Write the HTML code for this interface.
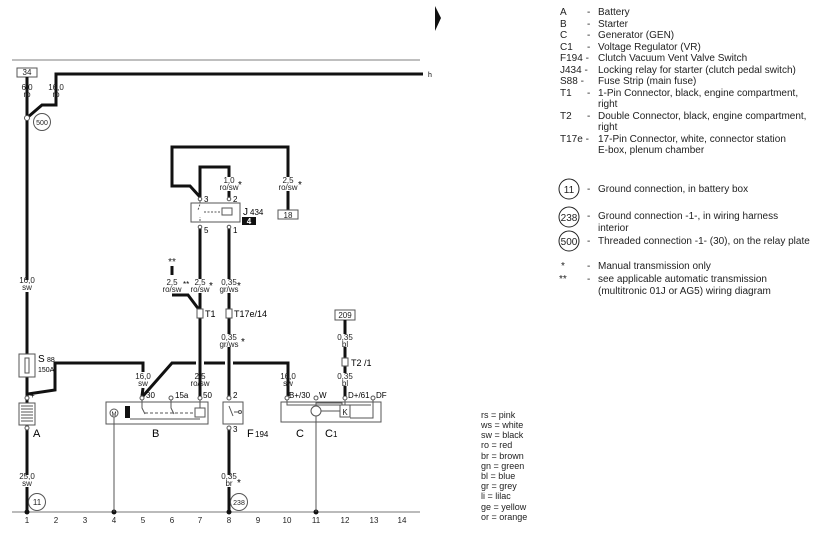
<!DOCTYPE html>
<html><head><style>
body{margin:0;background:#fff;}
svg{display:block;font-family:"Liberation Sans",sans-serif;}
.t{font-size:8px;fill:#222;text-anchor:middle}
.l{font-size:10px;fill:#222}
.w{stroke:#111;stroke-width:3;fill:none}
.n{stroke:#555;stroke-width:1;fill:none}
.b{stroke:#555;stroke-width:1;fill:#fff}
</style></head><body>
<svg width="831" height="535" viewBox="0 0 831 535">
<line x1="12" y1="60" x2="420" y2="60" stroke="#999" stroke-width="1.2"/>
<polygon points="435,6 441,18 435,31" fill="#111"/>
<!-- top wires -->
<rect x="17" y="68" width="20" height="9" class="b"/><text x="27" y="75" class="t">34</text>
<polyline class="w" points="27,77 27,512"/>
<polyline class="w" points="28,117 42,105 56,105 56,74 423,74"/>
<text x="428" y="77" style="font-size:7px">h</text>
<text x="27" y="90" class="t">6,0</text><text x="27" y="97" class="t">ro</text>
<text x="56" y="90" class="t">16,0</text><text x="56" y="97" class="t">ro</text>
<circle cx="27" cy="118" r="2.5" fill="#fff" stroke="#555"/>
<circle cx="42" cy="122" r="8.5" class="b"/><text x="42" y="125" class="t" style="font-size:7px">500</text>
<rect x="21" y="280" width="12" height="12" fill="#fff"/>
<text x="27" y="283" class="t">16,0</text><text x="27" y="290" class="t">sw</text>
<!-- fuse -->
<rect x="19" y="354" width="16" height="23" class="b"/><rect x="25" y="358" width="4" height="15" class="b"/>
<text x="38" y="362" style="font-size:10px">S</text><text x="47" y="362" style="font-size:7px">88</text>
<text x="38" y="372" style="font-size:7px">150A</text>
<polyline class="w" points="28,394 55,390 55,363 143,363 143,372"/>
<polyline class="w" points="143,388 142,396"/>
<polyline class="w" points="143,396 172,363 196,363"/>
<polyline class="w" points="204,363 225,363"/>
<polyline class="w" points="233,363 288,363 288,396"/>
<text x="143" y="379" class="t">16,0</text><text x="143" y="386" class="t">sw</text>
<text x="288" y="379" class="t">16,0</text><text x="288" y="386" class="t">sw</text>
<text x="200" y="379" class="t">2,5</text><text x="200" y="386" class="t">ro/sw</text>
<!-- battery -->
<rect x="19" y="403" width="16" height="22" class="b"/>
<path d="M21 406h12M21 409h12M21 412h12M21 415h12M21 418h12M21 421h12" stroke="#555"/>
<circle cx="27" cy="398" r="2" class="b"/><circle cx="27" cy="428" r="2" class="b"/>
<text x="30" y="398" style="font-size:8px">+</text>
<text x="33" y="437" style="font-size:11px">A</text>
<rect x="20" y="475" width="14" height="12" fill="#fff"/>
<text x="27" y="479" class="t">25,0</text><text x="27" y="486" class="t">sw</text>
<circle cx="37" cy="502" r="8.5" class="b"/><text x="37" y="505" class="t">11</text>
<!-- ground -->
<line x1="12" y1="512" x2="420" y2="512" stroke="#777" stroke-width="1"/>
<circle cx="27" cy="512" r="2.5" fill="#111"/><circle cx="114" cy="512" r="2.5" fill="#111"/>
<circle cx="229" cy="512" r="2.5" fill="#111"/><circle cx="316" cy="512" r="2.5" fill="#111"/>
<g class="t" style="font-size:8px">
<text x="27" y="523">1</text><text x="56" y="523">2</text><text x="85" y="523">3</text><text x="114" y="523">4</text><text x="143" y="523">5</text><text x="172" y="523">6</text><text x="200" y="523">7</text><text x="229" y="523">8</text><text x="258" y="523">9</text><text x="287" y="523">10</text><text x="316" y="523">11</text><text x="345" y="523">12</text><text x="374" y="523">13</text><text x="402" y="523">14</text></g>
<!-- starter -->
<rect x="106" y="402" width="102" height="22" class="b"/>
<line x1="114" y1="413" x2="114" y2="512" class="n"/>
<circle cx="114" cy="413" r="4" class="b"/><text x="114" y="416" class="t" style="font-size:6px">M</text>
<rect x="125" y="406" width="5" height="12" fill="#111"/>
<line x1="130" y1="419" x2="200" y2="419" class="n"/>
<line x1="145" y1="413" x2="195" y2="413" stroke="#555" stroke-dasharray="3,2"/>
<rect x="195" y="408" width="10" height="9" class="b"/>
<path d="M142 400v8l3 6M171 400v8l3 6M200 400v8" class="n"/>
<circle cx="142" cy="398" r="2" class="b"/><circle cx="171" cy="398" r="2" class="b"/><circle cx="200" cy="398" r="2" class="b"/>
<text x="146" y="398" style="font-size:8px">30</text><text x="175" y="398" style="font-size:8px">15a</text><text x="203" y="398" style="font-size:8px">50</text>
<text x="152" y="437" style="font-size:11px">B</text>
<!-- F194 -->
<rect x="223" y="402" width="20" height="22" class="b"/>
<path d="M229 406l4 10M234 412h5" class="n"/><circle cx="240" cy="412" r="1.5" class="b"/>
<polyline class="w" points="229,227 229,396"/>
<polyline class="w" points="229,430 229,512"/>
<circle cx="229" cy="398" r="2" class="b"/><circle cx="229" cy="428" r="2" class="b"/>
<text x="233" y="398" style="font-size:8px">2</text><text x="233" y="432" style="font-size:8px">3</text>
<text x="247" y="437" style="font-size:11px">F</text><text x="255" y="437" style="font-size:8px">194</text>
<rect x="220" y="334" width="22" height="13" fill="#fff"/>
<text x="229" y="340" class="t">0,35</text><text x="229" y="347" class="t">gr/ws</text><text x="241" y="345" style="font-size:10px">*</text>
<rect x="221" y="475" width="16" height="12" fill="#fff"/>
<text x="229" y="479" class="t">0,35</text><text x="229" y="486" class="t">br</text><text x="237" y="486" style="font-size:10px">*</text>
<circle cx="239" cy="502" r="8.5" class="b"/><text x="239" y="505" class="t" style="font-size:7px">238</text>
<!-- C -->
<rect x="281" y="402" width="100" height="20" class="b"/>
<line x1="316" y1="413" x2="316" y2="512" class="n"/>
<circle cx="316" cy="411" r="5" class="b"/>
<rect x="340" y="405" width="10" height="12" class="b"/><text x="345" y="415" class="t" style="font-size:8px">K</text>
<path d="M287 400v5h84M316 406v-3h26v2M321 411h19M373 400v18h-23M345 400v5" class="n"/>
<circle cx="287" cy="398" r="2" class="b"/><circle cx="316" cy="398" r="2" class="b"/><circle cx="345" cy="398" r="2" class="b"/><circle cx="373" cy="398" r="2" class="b"/>
<text x="289" y="398" style="font-size:8px">B+/30</text><text x="319" y="398" style="font-size:8px">W</text><text x="348" y="398" style="font-size:8px">D+/61</text><text x="376" y="398" style="font-size:8px">DF</text>
<text x="296" y="437" style="font-size:11px">C</text><text x="325" y="437" style="font-size:11px">C</text><text x="333" y="437" style="font-size:8px">1</text>
<rect x="335" y="310" width="20" height="10" class="b"/><text x="345" y="318" class="t">209</text>
<polyline class="w" points="345,320 345,396"/>
<rect x="337" y="334" width="16" height="13" fill="#fff"/><rect x="337" y="373" width="16" height="13" fill="#fff"/>
<text x="345" y="340" class="t">0,35</text><text x="345" y="347" class="t">bl</text>
<text x="345" y="379" class="t">0,35</text><text x="345" y="386" class="t">bl</text>
<rect x="342" y="358" width="6" height="8" class="b"/><text x="351" y="366" style="font-size:9px">T2 /1</text>
<!-- relay -->
<polyline class="w" points="200,197 190,186 172,186 172,147 288,147 288,210"/>
<polyline class="w" points="229,199 229,167 200,167 200,197"/>
<polyline class="w" points="200,227 200,396"/>
<rect x="191" y="203" width="49" height="19" class="b"/>
<path d="M200 201v3l-2 6M200 221v-4M204 212h18" stroke="#555" fill="none" stroke-dasharray="2,1.5"/>
<rect x="222" y="208" width="10" height="7" class="b"/>
<circle cx="200" cy="199" r="1.8" class="b"/><circle cx="229" cy="199" r="1.8" class="b"/>
<circle cx="200" cy="227" r="1.8" class="b"/><circle cx="229" cy="227" r="1.8" class="b"/>
<text x="204" y="202" style="font-size:8px">3</text><text x="233" y="202" style="font-size:8px">2</text>
<text x="204" y="233" style="font-size:8px">5</text><text x="233" y="233" style="font-size:8px">1</text>
<text x="243" y="215" style="font-size:10px">J</text><text x="250" y="215" style="font-size:8px">434</text>
<rect x="242" y="217" width="14" height="8" fill="#111"/><text x="249" y="224" class="t" style="fill:#fff;font-weight:bold">4</text>
<rect x="219" y="177" width="20" height="14" fill="#fff"/><rect x="278" y="177" width="20" height="14" fill="#fff"/>
<text x="229" y="183" class="t">1,0</text><text x="229" y="190" class="t">ro/sw</text><text x="238" y="188" style="font-size:10px">*</text>
<text x="288" y="183" class="t">2,5</text><text x="288" y="190" class="t">ro/sw</text><text x="298" y="188" style="font-size:10px">*</text>
<rect x="278" y="210" width="20" height="9" class="b"/><text x="288" y="218" class="t">18</text>
<!-- lower relay wires -->
<polyline class="w" points="172,266 172,275"/>
<text x="172" y="265" class="t" style="font-size:10px">**</text>
<polyline class="w" points="172,295 188,295 200,311"/>
<rect x="189" y="279" width="50" height="14" fill="#fff"/><rect x="163" y="279" width="18" height="14" fill="#fff"/>
<text x="172" y="285" class="t">2,5</text><text x="172" y="292" class="t">ro/sw</text><text x="183" y="287" style="font-size:8px">**</text>
<text x="200" y="285" class="t">2,5</text><text x="200" y="292" class="t">ro/sw</text><text x="209" y="289" style="font-size:10px">*</text>
<text x="229" y="285" class="t">0,35</text><text x="229" y="292" class="t">gr/ws</text><text x="237" y="289" style="font-size:10px">*</text>
<rect x="197" y="309" width="6" height="9" class="b"/><text x="205" y="317" style="font-size:9px">T1</text>
<rect x="226" y="309" width="6" height="9" class="b"/><text x="234" y="317" style="font-size:9px">T17e/14</text>
<!-- legend -->
<g class="l">
<text x="560" y="15">A</text><text x="587" y="15">-</text><text x="598" y="15">Battery</text>
<text x="560" y="27">B</text><text x="587" y="27">-</text><text x="598" y="27">Starter</text>
<text x="560" y="38">C</text><text x="587" y="38">-</text><text x="598" y="38">Generator (GEN)</text>
<text x="560" y="50">C1</text><text x="587" y="50">-</text><text x="598" y="50">Voltage Regulator (VR)</text>
<text x="560" y="61">F194 -</text><text x="598" y="61">Clutch Vacuum Vent Valve Switch</text>
<text x="560" y="73">J434 -</text><text x="598" y="73">Locking relay for starter (clutch pedal switch)</text>
<text x="560" y="84">S88 -</text><text x="598" y="84">Fuse Strip (main fuse)</text>
<text x="560" y="96">T1</text><text x="587" y="96">-</text><text x="598" y="96">1-Pin Connector, black, engine compartment,</text>
<text x="598" y="107">right</text>
<text x="560" y="119">T2</text><text x="587" y="119">-</text><text x="598" y="119">Double Connector, black, engine compartment,</text>
<text x="598" y="130">right</text>
<text x="560" y="142">T17e -</text><text x="598" y="142">17-Pin Connector, white, connector station</text>
<text x="598" y="153">E-box, plenum chamber</text>
<text x="587" y="192">-</text><text x="598" y="192">Ground connection, in battery box</text>
<text x="587" y="219">-</text><text x="598" y="219">Ground connection -1-, in wiring harness</text>
<text x="598" y="231">interior</text>
<text x="587" y="244">-</text><text x="598" y="244">Threaded connection -1- (30), on the relay plate</text>
<text x="561" y="269">*</text><text x="587" y="269">-</text><text x="598" y="269">Manual transmission only</text>
<text x="559" y="282">**</text><text x="587" y="282">-</text><text x="598" y="282">see applicable automatic transmission</text>
<text x="598" y="294">(multitronic 01J or AG5) wiring diagram</text>
</g>
<circle cx="569" cy="189" r="10" fill="none" stroke="#222"/><text x="569" y="193" class="t" style="font-size:10px">11</text>
<circle cx="569" cy="217" r="10" fill="none" stroke="#222"/><text x="569" y="221" class="t" style="font-size:10px">238</text>
<circle cx="569" cy="241" r="10" fill="none" stroke="#222"/><text x="569" y="245" class="t" style="font-size:10px">500</text>
<g style="font-size:9px;fill:#222">
<text x="481" y="418">rs = pink</text><text x="481" y="428">ws = white</text><text x="481" y="438">sw = black</text>
<text x="481" y="448">ro = red</text><text x="481" y="459">br = brown</text><text x="481" y="469">gn = green</text>
<text x="481" y="479">bl = blue</text><text x="481" y="489">gr = grey</text><text x="481" y="499">li = lilac</text>
<text x="481" y="510">ge = yellow</text><text x="481" y="520">or = orange</text></g>
</svg>
</body></html>
